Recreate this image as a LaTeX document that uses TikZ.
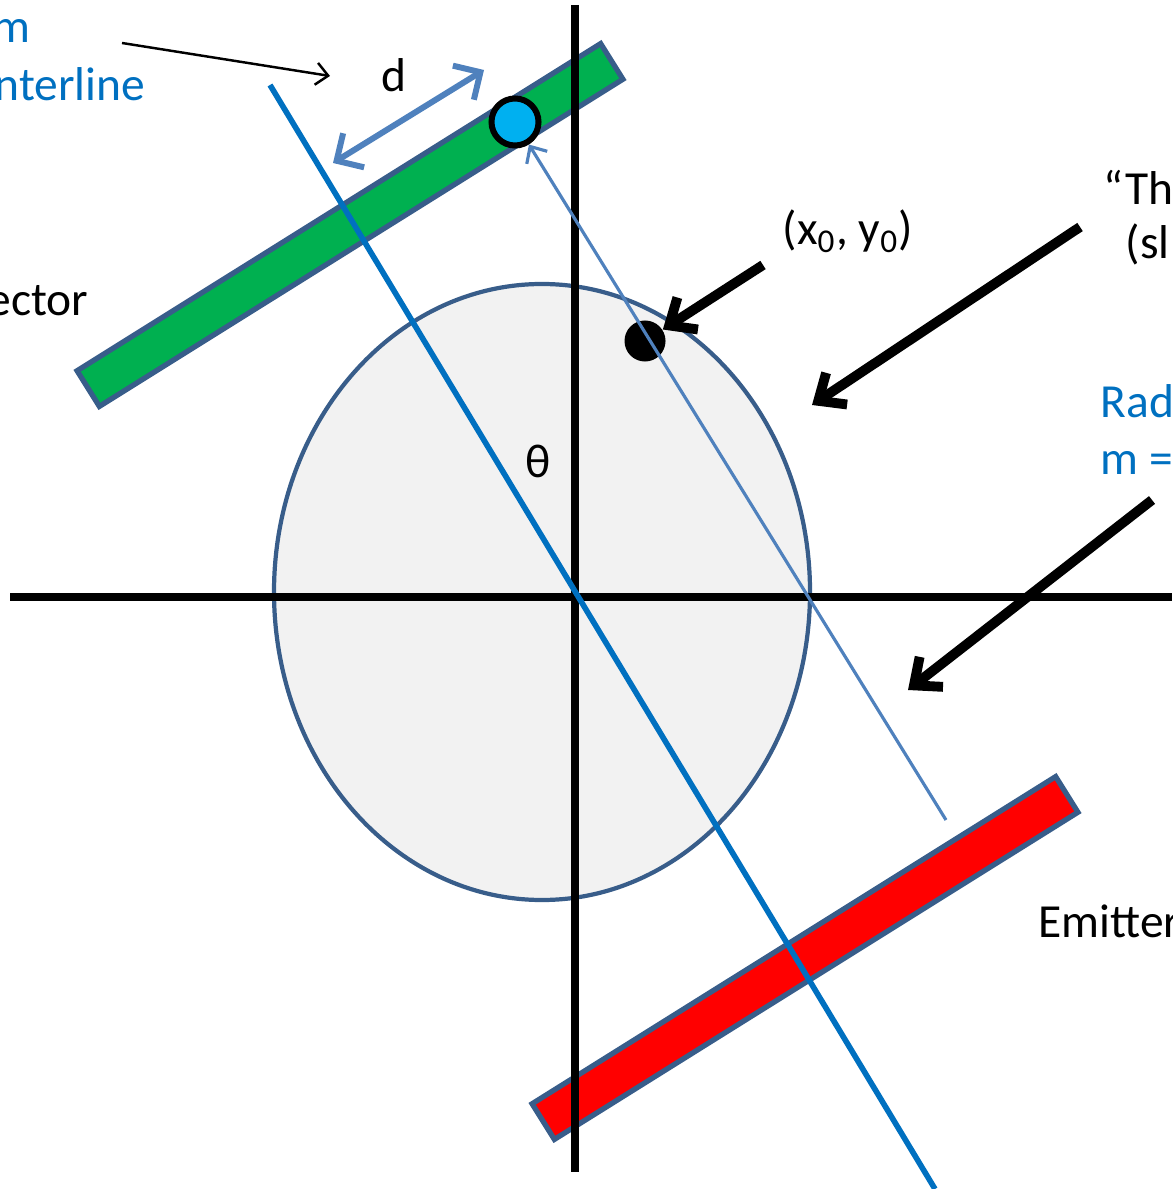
\documentclass[tikz,border=0pt]{standalone}
\usepackage{fontspec}
\setmainfont{Carlito}
\usetikzlibrary{arrows.meta}
\definecolor{lineblue}{HTML}{0070C0}
\definecolor{rayblue}{HTML}{4F81BD}
\definecolor{edgeblue}{HTML}{385D8A}
\definecolor{detgreen}{HTML}{00B050}
\definecolor{spotblue}{HTML}{00B0F0}
\definecolor{objgray}{HTML}{F2F2F2}
\begin{document}
\begin{tikzpicture}[x=0.01cm, y=-0.01cm,
    lbl/.style={font=\fontsize{13.5}{16}\selectfont, inner sep=0pt},
    bar/.style={draw=edgeblue, line width=1.5pt, rectangle, rotate=32, minimum width=6.17cm, minimum height=0.42cm, inner sep=0pt},
    pointer/.style={line width=2.8pt, -{Straight Barb[length=0.22cm, width=0.38cm]}}]
  \useasboundingbox (0,0) rectangle (1172,1189);
  % object, detector and emitter
  \draw[edgeblue, fill=objgray, line width=1.2pt] (542,592) ellipse [x radius=268, y radius=308];
  \node[bar, fill=detgreen] (detector) at (350,225) {};
  \node[bar, fill=red] (emitter) at (805,958) {};
  % axes
  \draw[line width=2.2pt] (575,5) -- (575,1172);
  \draw[line width=2.2pt] (10,597) -- (1172,597);
  % beam centerline and ray
  \draw[lineblue, line width=1.6pt] (270,85) -- (935,1189);
  \node[circle, draw=black, fill=spotblue, line width=1.7pt, minimum size=0.47cm, inner sep=0pt] (spot) at (515,122) {};
  \node[circle, fill=black, minimum size=0.41cm, inner sep=0pt] (point) at (645,341) {};
  \coordinate (raystart) at (946,820);
  \draw[rayblue, line width=0.9pt, -{Straight Barb[length=0.13cm, width=0.24cm]}] (raystart) -- (spot);
  \coordinate (dA) at (333,163);
  \coordinate (dB) at (484,70);
  \draw[rayblue, line width=1.7pt, {Straight Barb[length=0.2cm, width=0.4cm]}-{Straight Barb[length=0.2cm, width=0.4cm]}] (dA) -- (dB);
  % pointers
  \coordinate (lineA) at (122,43);
  \coordinate (lineB) at (330,76);
  \draw[line width=0.7pt, -{Straight Barb[length=0.12cm, width=0.22cm]}] (lineA) -- (lineB);
  \coordinate (ptA) at (763,265);
  \draw[pointer] (ptA) -- (point);
  \coordinate (objA) at (1080,227);
  \coordinate (objB) at (812,405);
  \draw[pointer] (objA) -- (objB);
  \coordinate (radA) at (1152,500);
  \coordinate (radB) at (908,690);
  \draw[pointer] (radA) -- (radB);
  % labels
  \node[lbl, lineblue, anchor=base east] (beamtop) at (31,43) {m};
  \node[lbl, lineblue, anchor=base east] (beambot) at (146,101) {nterline};
  \node[lbl, anchor=base east] (detlabel) at (89,316) {ector};
  \node[lbl, anchor=base west] (dlabel) at (381,92) {d};
  \node[lbl, anchor=base west] (theta) at (525,478) {θ};
  \node[lbl, anchor=base west] (ptlabel) at (782,245) {(x\textsubscript{0}, y\textsubscript{0})};
  \node[lbl, anchor=base west] (objtop) at (1103,205) {“Th};
  \node[lbl, anchor=base west] (objbot) at (1125,259) {(sl};
  \node[lbl, lineblue, anchor=base west] (radtop) at (1100,418) {Rad};
  \node[lbl, lineblue, anchor=base west] (radbot) at (1100,475) {m =};
  \node[lbl, anchor=base west] (emlabel) at (1038,937) {Emitter};
\end{tikzpicture}
\end{document}
